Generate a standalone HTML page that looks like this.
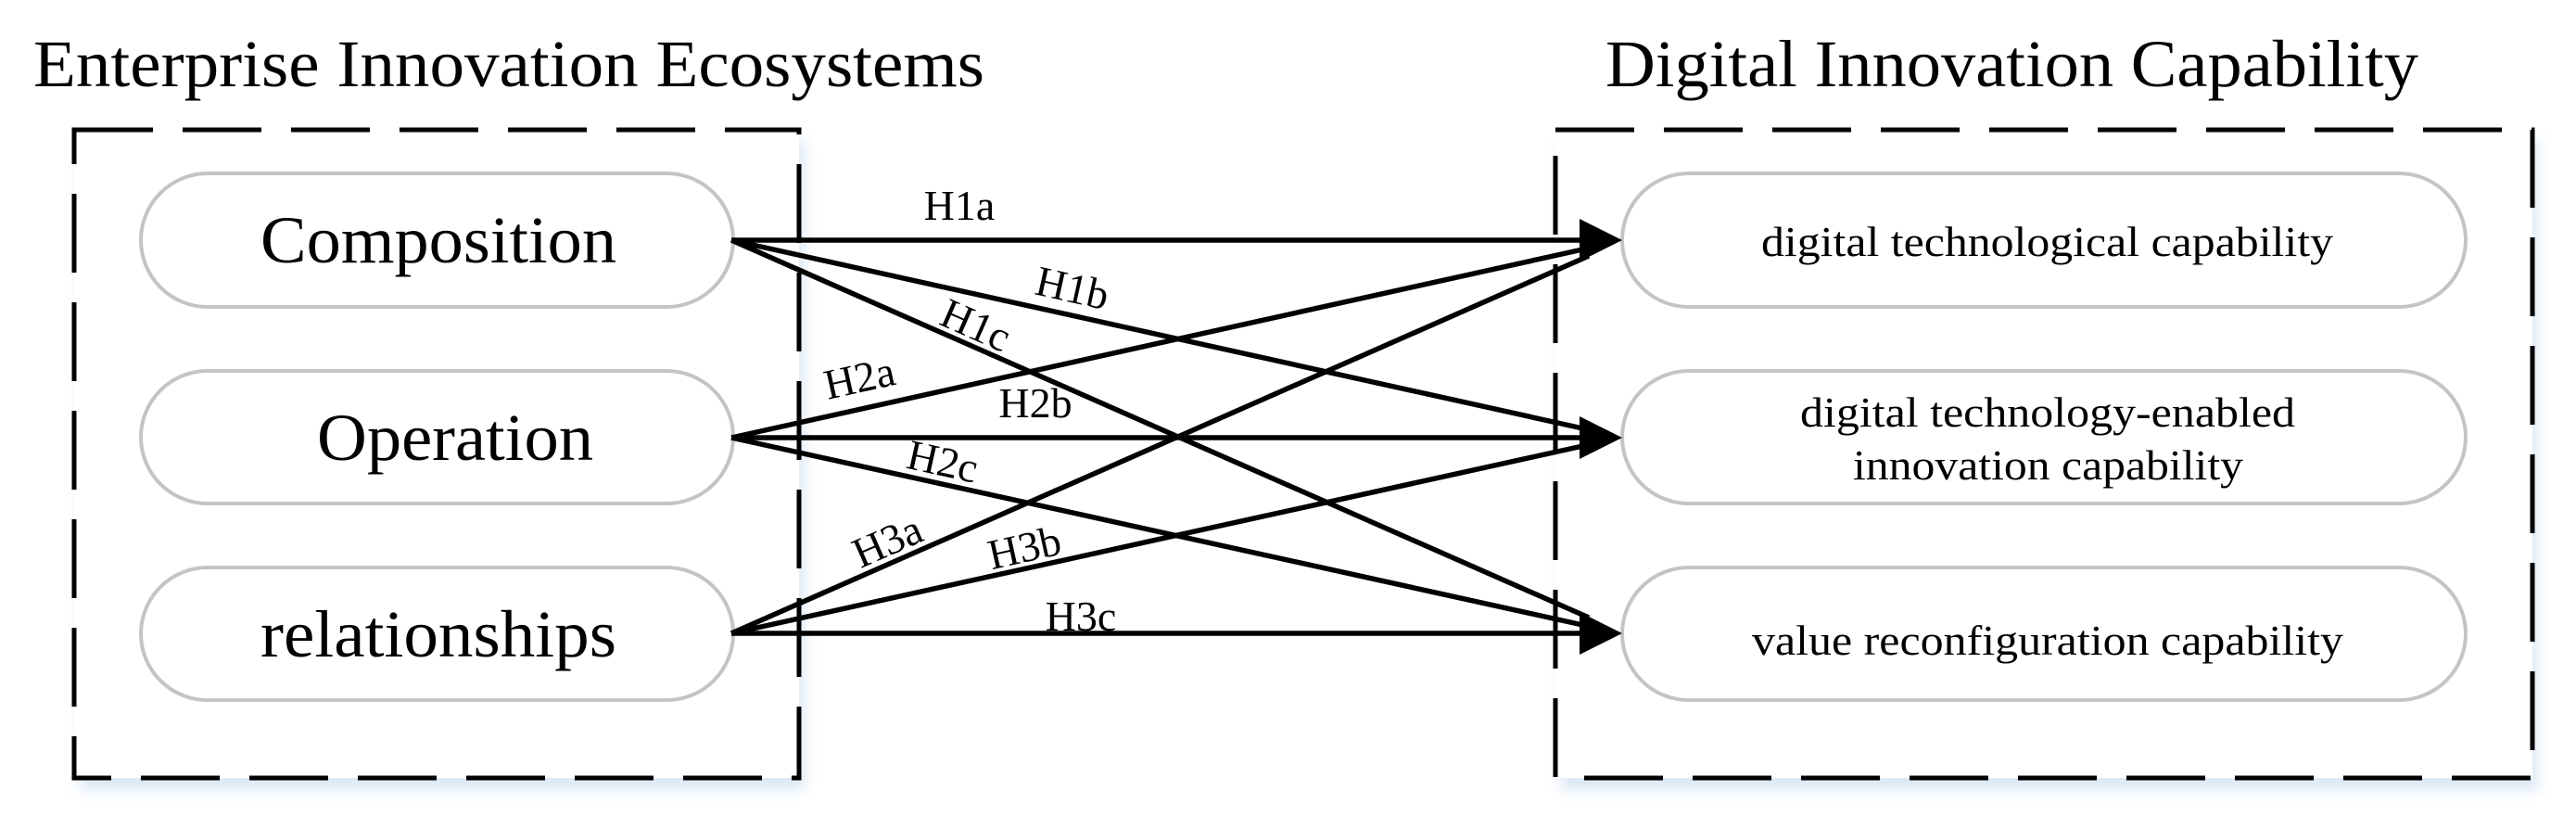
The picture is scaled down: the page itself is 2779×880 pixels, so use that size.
<!DOCTYPE html>
<html><head><meta charset="utf-8"><style>html,body{margin:0;padding:0;background:#fff}svg{display:block}</style></head>
<body>
<svg width="2779" height="880" viewBox="0 0 2779 880" xmlns="http://www.w3.org/2000/svg" font-family="Liberation Serif, serif">
<defs>
<filter id="sh" x="-10%" y="-10%" width="120%" height="130%">
<feGaussianBlur in="SourceAlpha" stdDeviation="6"/>
<feOffset dx="4" dy="10"/>
<feComponentTransfer><feFuncA type="linear" slope="0.18"/></feComponentTransfer>
<feFlood flood-color="#6a9fd8"/><feComposite operator="in" in2="SourceAlpha"/>
<feMerge><feMergeNode/><feMergeNode in="SourceGraphic"/></feMerge>
</filter>
<filter id="bs"><feGaussianBlur stdDeviation="7"/></filter>
</defs>
<rect width="2779" height="880" fill="#fff"/>
<!-- shadows -->
<g fill="#dbe8f6" filter="url(#bs)">
<rect x="86" y="152" width="782" height="700"/>
<rect x="1684" y="152" width="1054" height="700"/>
<rect x="156" y="197" width="640" height="144" rx="72"/>
<rect x="156" y="410" width="640" height="144" rx="72"/>
<rect x="156" y="622" width="640" height="144" rx="72"/>
<rect x="1754" y="197" width="912" height="144" rx="72"/>
<rect x="1754" y="410" width="912" height="144" rx="72"/>
<rect x="1754" y="622" width="912" height="144" rx="72"/>
</g>
<rect x="80" y="140" width="782" height="699" fill="#fff"/>
<rect x="1678" y="140" width="1054" height="699" fill="#fff"/>
<g fill="none" stroke="#000" stroke-width="5" stroke-dasharray="85 32">
<rect x="80" y="140" width="782" height="699"/>
<rect x="1678" y="140" width="1054" height="699"/>
</g>
<g fill="#fff" stroke="#c4c4c4" stroke-width="4">
<rect x="152" y="187" width="639" height="144" rx="72"/>
<rect x="152" y="400" width="639" height="143" rx="72"/>
<rect x="152" y="612" width="639" height="143" rx="72"/>
<rect x="1750" y="187" width="910" height="144" rx="72"/>
<rect x="1750" y="400" width="910" height="143" rx="72"/>
<rect x="1750" y="612" width="910" height="143" rx="72"/>
</g>
<g font-size="72" fill="#000">
<text x="36" y="93" textLength="1026" lengthAdjust="spacingAndGlyphs">Enterprise Innovation Ecosystems</text>
<text x="1732" y="93" textLength="877" lengthAdjust="spacingAndGlyphs">Digital Innovation Capability</text>
<text x="281" y="283" textLength="384" lengthAdjust="spacingAndGlyphs">Composition</text>
<text x="342" y="496" textLength="298" lengthAdjust="spacingAndGlyphs">Operation</text>
<text x="281" y="708" textLength="384" lengthAdjust="spacingAndGlyphs">relationships</text>
</g>
<g font-size="46" fill="#000">
<text x="1900" y="276" textLength="617" lengthAdjust="spacingAndGlyphs">digital technological capability</text>
<text x="1942" y="460" textLength="534" lengthAdjust="spacingAndGlyphs">digital technology-enabled</text>
<text x="1999" y="517" textLength="421" lengthAdjust="spacingAndGlyphs">innovation capability</text>
<text x="1890" y="706" textLength="638" lengthAdjust="spacingAndGlyphs">value reconfiguration capability</text>
</g>
<!-- lines -->
<g stroke="#000" stroke-width="5.5" fill="none">
<line x1="789" y1="259" x2="1712" y2="259"/>
<line x1="789" y1="259" x2="1712" y2="463"/>
<line x1="789" y1="259" x2="1714" y2="666"/>
<line x1="789" y1="472" x2="1712" y2="268"/>
<line x1="789" y1="472" x2="1712" y2="472"/>
<line x1="789" y1="472" x2="1712" y2="675"/>
<line x1="789" y1="683" x2="1714" y2="276"/>
<line x1="789" y1="683" x2="1712" y2="480"/>
<line x1="789" y1="683" x2="1712" y2="683"/>
</g>
<g fill="#000">
<polygon points="1750,259 1704,236 1704,282"/>
<polygon points="1750,472 1704,449 1704,495"/>
<polygon points="1750,683 1704,660 1704,706"/>
</g>
<g font-size="46" fill="#000" text-anchor="middle">
<text x="1035" y="237">H1a</text>
<text x="1117" y="450">H2b</text>
<text x="1166" y="680">H3c</text>
<text transform="translate(1157,310) rotate(12.5)" dy="16">H1b</text>
<text transform="translate(1053,350) rotate(23.8)" dy="16">H1c</text>
<text transform="translate(927,407) rotate(-12.5)" dy="16">H2a</text>
<text transform="translate(1017,497) rotate(12.5)" dy="16">H2c</text>
<text transform="translate(957,583) rotate(-23.8)" dy="16">H3a</text>
<text transform="translate(1105,590) rotate(-12.5)" dy="16">H3b</text>
</g>
</svg>
</body></html>
